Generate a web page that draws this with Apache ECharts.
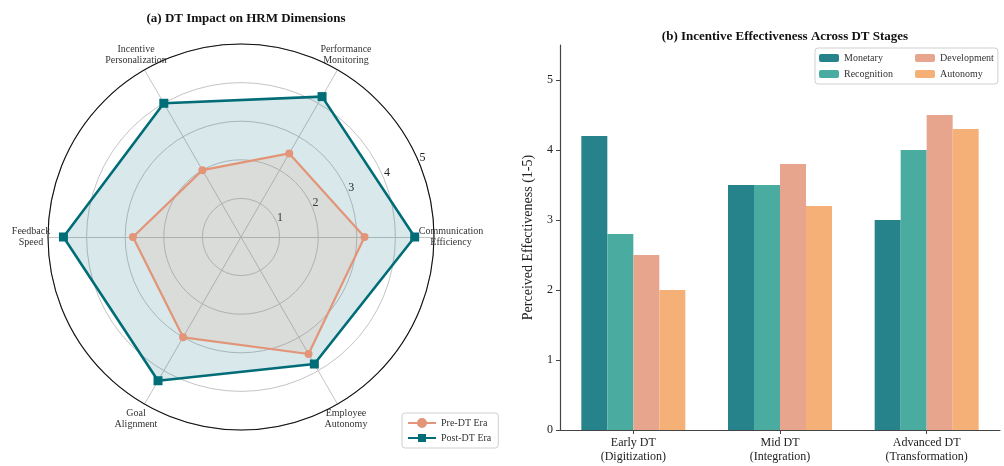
<!DOCTYPE html>
<html>
<head>
<meta charset="utf-8">
<script src="https://cdn.jsdelivr.net/npm/echarts@6/dist/echarts.min.js"></script>
<style>
  html, body { margin: 0; padding: 0; background: #fff; }
  #chart { width: 1004px; height: 466px; }
</style>
</head>
<body>
<div id="chart"></div>
<script>
// Radar panel: HRM dimensions before and after digital transformation
const dimensions = ['Communication\nEfficiency', 'Performance\nMonitoring', 'Incentive\nPersonalization',
                    'Feedback\nSpeed', 'Goal\nAlignment', 'Employee\nAutonomy'];
const preDT = [3.2, 2.5, 2.0, 2.8, 3.0, 3.5];
const postDT = [4.5, 4.2, 4.0, 4.6, 4.3, 3.8];
const radialTicks = [0, 1, 2, 3, 4, 5];

// Bar panel: incentive effectiveness per DT stage
const stages = ['Early DT\n(Digitization)', 'Mid DT\n(Integration)', 'Advanced DT\n(Transformation)'];
const monetary = [4.2, 3.5, 3.0];
const recognition = [2.8, 3.5, 4.0];
const development = [2.5, 3.8, 4.5];
const autonomy = [2.0, 3.2, 4.3];
const yTicks = [0, 1, 2, 3, 4, 5];

const FONT = "'Liberation Serif', 'Times New Roman', serif";
const TEAL = '#006d77';
const SALMON = '#e29578';

const iconCircle = 'path://M0,4H9.5V6H0Z M18.5,4H28V6H18.5Z M14,0A5,5 0 1 1 13.99,0Z';
const iconSquare = 'path://M0,4H10V6H0Z M18,4H28V6H18Z M10,1H18V9H10Z';

const chart = echarts.init(document.getElementById('chart'), null, { renderer: 'canvas' });

const radarCenter = [241, 237];
const radarRadius = 193;

chart.setOption({
  backgroundColor: '#fff',
  animation: false,
  textStyle: { fontFamily: FONT },
  title: [
    {
      text: '(a) DT Impact on HRM Dimensions',
      left: 241, top: 7, textAlign: 'center',
      textStyle: { fontFamily: FONT, fontSize: 13, fontWeight: 'bold', color: '#111' }
    },
    {
      text: '(b) Incentive Effectiveness Across DT Stages',
      left: 780, top: 25, textAlign: 'center',
      textStyle: { fontFamily: FONT, fontSize: 13, fontWeight: 'bold', color: '#111' }
    }
  ],
  legend: [
    {
      data: [
        { name: 'Pre-DT Era', icon: iconCircle },
        { name: 'Post-DT Era', icon: iconSquare }
      ],
      orient: 'vertical',
      left: 402, top: 413,
      itemWidth: 28, itemHeight: 10, itemGap: 5,
      padding: [5, 7, 5, 6],
      borderColor: '#d0d0d0', borderWidth: 1, borderRadius: 3,
      backgroundColor: '#fff',
      textStyle: { fontFamily: FONT, fontSize: 10, color: '#333' }
    },
    {
      data: ['Monetary', 'Recognition'],
      orient: 'vertical',
      left: 815, top: 48,
      itemWidth: 20, itemHeight: 8, itemGap: 6,
      padding: [5, 105, 5, 4],
      borderColor: '#d0d0d0', borderWidth: 1, borderRadius: 3,
      backgroundColor: '#fff',
      textStyle: { fontFamily: FONT, fontSize: 10, color: '#333' }
    },
    {
      data: ['Development', 'Autonomy'],
      orient: 'vertical',
      left: 911, top: 48,
      itemWidth: 20, itemHeight: 8, itemGap: 6,
      padding: [5, 4, 5, 4],
      textStyle: { fontFamily: FONT, fontSize: 10, color: '#333' }
    }
  ],
  // polar frame: rings and the outer circle, radial labels near 22.5°
  polar: { center: radarCenter, radius: radarRadius },
  angleAxis: {
    type: 'value', min: 0, max: 360, startAngle: 22.5,
    axisLine: { show: true, lineStyle: { color: '#111', width: 1.1 } },
    axisTick: { show: false }, axisLabel: { show: false }, splitLine: { show: false },
    z: 10
  },
  radiusAxis: {
    type: 'value', min: 0, max: 5, interval: 1,
    axisLine: { show: false }, axisTick: { show: false },
    axisLabel: {
      show: true, margin: 2, color: '#222', align: 'center',
      formatter: v => (v === 0 ? '' : '{r|' + v + '}'),
      rich: {
        r: { fontFamily: FONT, fontSize: 12, color: '#222', padding: [0, 0, 6, 8] }
      }
    },
    splitLine: { show: true, lineStyle: { color: '#c4c4c4', width: 1 } },
    z: 1
  },
  radar: {
    center: radarCenter,
    radius: radarRadius,
    startAngle: 0,
    shape: 'circle',
    splitNumber: 5,
    indicator: dimensions.map(name => ({ name, min: 0, max: radialTicks[radialTicks.length - 1] })),
    nameGap: 17,
    axisName: {
      color: '#333', fontFamily: FONT, fontSize: 10, lineHeight: 11,
      align: 'center', verticalAlign: 'middle'
    },
    axisLine: { show: true, lineStyle: { color: '#c4c4c4', width: 1 } },
    splitLine: { show: false },
    splitArea: { show: false },
    axisTick: { show: false },
    axisLabel: { show: false }
  },
  grid: { left: 560, right: 4, top: 45, bottom: 36, containLabel: false },
  xAxis: {
    type: 'category', data: stages,
    axisLine: { lineStyle: { color: '#444', width: 1.2 } },
    axisTick: { show: true, alignWithLabel: true, length: 4, lineStyle: { color: '#444' } },
    axisLabel: { fontFamily: FONT, fontSize: 12, color: '#222', lineHeight: 14, margin: 6 }
  },
  yAxis: {
    type: 'value', min: 0, max: 5.5, interval: 1,
    name: 'Perceived Effectiveness (1-5)',
    nameLocation: 'middle', nameGap: 25,
    nameTextStyle: { fontFamily: FONT, fontSize: 14, color: '#222' },
    axisLine: { show: true, lineStyle: { color: '#444', width: 1.2 } },
    axisTick: { show: true, length: 4, lineStyle: { color: '#444' }, customValues: yTicks },
    axisLabel: { fontFamily: FONT, fontSize: 12, color: '#222', margin: 7, customValues: yTicks,
                 formatter: v => (Number.isInteger(v) ? String(v) : '') },
    splitLine: { show: false }
  },
  series: [
    {
      type: 'radar',
      z: 3,
      data: [
        {
          name: 'Post-DT Era',
          value: postDT,
          symbol: 'rect', symbolSize: 9,
          itemStyle: { color: TEAL },
          lineStyle: { color: TEAL, width: 2.6 },
          areaStyle: { color: TEAL, opacity: 0.15 }
        },
        {
          name: 'Pre-DT Era',
          value: preDT,
          symbol: 'circle', symbolSize: 8,
          itemStyle: { color: SALMON },
          lineStyle: { color: SALMON, width: 2.2 },
          areaStyle: { color: SALMON, opacity: 0.15 }
        }
      ]
    },
    { name: 'Monetary', type: 'bar', data: monetary, barWidth: 26, barGap: '0%', itemStyle: { color: '#26838b' } },
    { name: 'Recognition', type: 'bar', data: recognition, barWidth: 26, barGap: '0%', itemStyle: { color: '#4aaba0' } },
    { name: 'Development', type: 'bar', data: development, barWidth: 26, barGap: '0%', itemStyle: { color: '#e6a58c' } },
    { name: 'Autonomy', type: 'bar', data: autonomy, barWidth: 26, barGap: '0%', itemStyle: { color: '#f5b078' } }
  ]
});
</script>
</body>
</html>
